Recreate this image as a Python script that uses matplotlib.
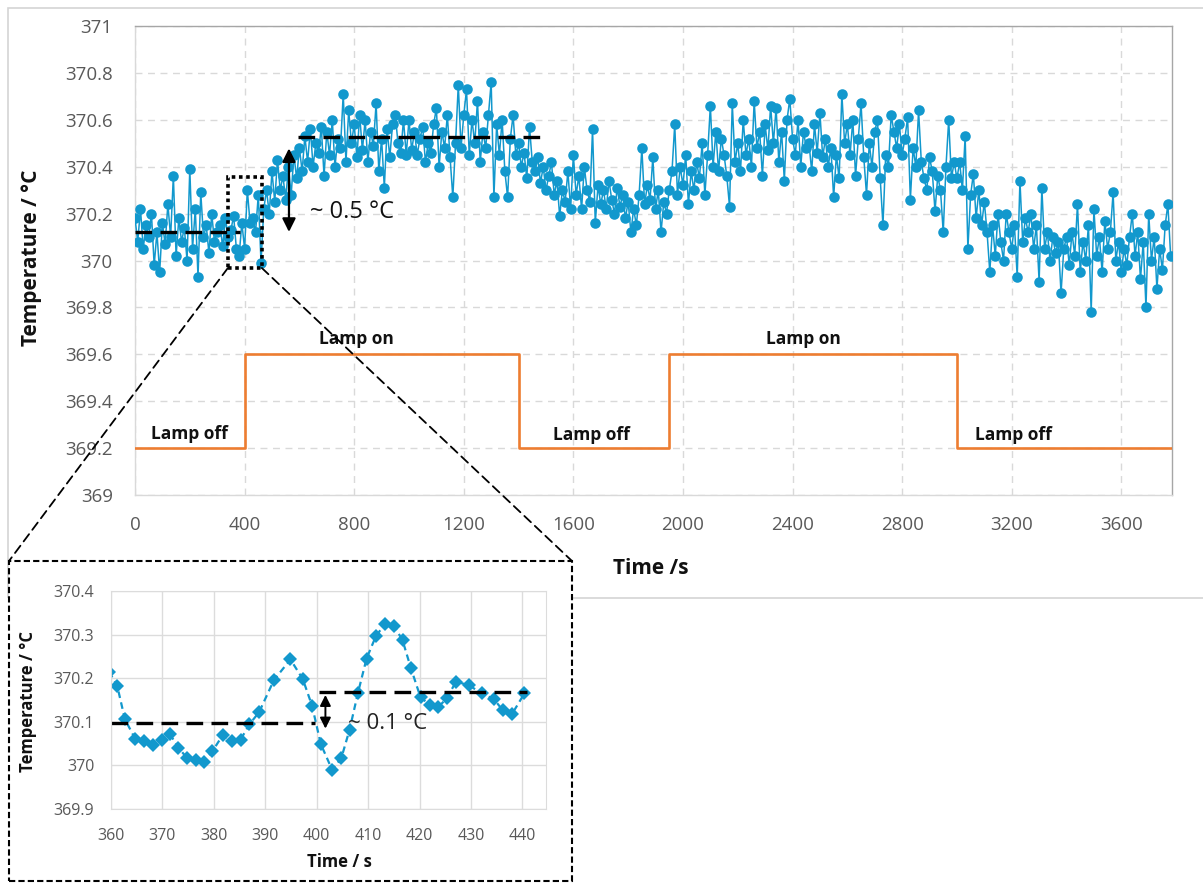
import numpy as np
import matplotlib
matplotlib.use("Agg")
import matplotlib.pyplot as plt
from matplotlib.patches import Rectangle, ConnectionPatch

plt.rcParams["font.family"] = ["Open Sans", "DejaVu Sans"]

# main run, every 10 s (one list per 200 s block)
step_s = 10
blk_0000 = [370.18, 370.08, 370.22, 370.05, 370.15, 370.10, 370.20, 369.98, 370.12, 369.95,
            370.16, 370.07, 370.24, 370.10, 370.36, 370.02, 370.18, 370.08, 370.14, 370.00]
blk_0200 = [370.39, 370.05, 370.22, 369.93, 370.29, 370.10, 370.15, 370.03, 370.20, 370.08,
            370.12, 370.15, 370.06, 370.18, 370.10, 370.13, 370.19, 370.05, 370.02, 370.16]
blk_0400 = [370.05, 370.30, 370.16, 370.18, 370.12, 370.28, 369.99, 370.22, 370.30, 370.20,
            370.38, 370.25, 370.43, 370.30, 370.36, 370.26, 370.40, 370.28, 370.45, 370.35]
blk_0600 = [370.48, 370.38, 370.53, 370.42, 370.56, 370.40, 370.50, 370.46, 370.57, 370.36,
            370.55, 370.45, 370.60, 370.40, 370.52, 370.48, 370.71, 370.42, 370.64, 370.50]
blk_0800 = [370.58, 370.44, 370.62, 370.47, 370.60, 370.42, 370.55, 370.49, 370.67, 370.38,
            370.52, 370.31, 370.56, 370.44, 370.58, 370.62, 370.50, 370.46, 370.60, 370.45]
blk_1000 = [370.60, 370.47, 370.55, 370.45, 370.52, 370.57, 370.42, 370.50, 370.46, 370.58,
            370.65, 370.40, 370.55, 370.48, 370.62, 370.44, 370.27, 370.50, 370.75, 370.48]
blk_1200 = [370.62, 370.73, 370.45, 370.60, 370.50, 370.68, 370.42, 370.55, 370.48, 370.62,
            370.76, 370.27, 370.58, 370.45, 370.60, 370.38, 370.27, 370.52, 370.62, 370.45]
blk_1400 = [370.50, 370.40, 370.46, 370.35, 370.57, 370.42, 370.38, 370.44, 370.33, 370.40,
            370.30, 370.36, 370.42, 370.28, 370.34, 370.19, 370.30, 370.25, 370.38, 370.22]
blk_1600 = [370.45, 370.28, 370.36, 370.22, 370.40, 370.30, 370.25, 370.56, 370.16, 370.32,
            370.24, 370.30, 370.22, 370.34, 370.26, 370.20, 370.31, 370.23, 370.28, 370.18]
blk_1800 = [370.25, 370.12, 370.22, 370.15, 370.28, 370.48, 370.24, 370.32, 370.26, 370.44,
            370.22, 370.30, 370.12, 370.25, 370.20, 370.30, 370.38, 370.58, 370.28, 370.40]
blk_2000 = [370.32, 370.45, 370.24, 370.38, 370.30, 370.42, 370.35, 370.50, 370.28, 370.45,
            370.66, 370.40, 370.55, 370.38, 370.52, 370.45, 370.36, 370.23, 370.67, 370.42]
blk_2200 = [370.50, 370.38, 370.60, 370.45, 370.52, 370.40, 370.68, 370.48, 370.55, 370.36,
            370.58, 370.47, 370.66, 370.50, 370.65, 370.42, 370.55, 370.34, 370.60, 370.69]
blk_2400 = [370.52, 370.45, 370.60, 370.40, 370.55, 370.48, 370.50, 370.38, 370.58, 370.46,
            370.63, 370.44, 370.52, 370.40, 370.48, 370.27, 370.45, 370.35, 370.71, 370.50]
blk_2600 = [370.58, 370.45, 370.60, 370.36, 370.52, 370.67, 370.44, 370.28, 370.50, 370.40,
            370.55, 370.60, 370.35, 370.15, 370.45, 370.40, 370.62, 370.55, 370.48, 370.58]
blk_2800 = [370.45, 370.52, 370.61, 370.26, 370.48, 370.40, 370.64, 370.42, 370.35, 370.30,
            370.44, 370.38, 370.21, 370.36, 370.30, 370.12, 370.40, 370.60, 370.35, 370.42]
blk_3000 = [370.35, 370.42, 370.30, 370.53, 370.05, 370.28, 370.37, 370.18, 370.30, 370.15,
            370.25, 370.12, 369.95, 370.15, 370.02, 370.20, 370.08, 370.00, 370.20, 370.12]
blk_3200 = [370.05, 370.15, 369.93, 370.34, 370.08, 370.18, 370.12, 370.20, 370.05, 370.15,
            369.91, 370.31, 370.05, 370.12, 370.00, 370.10, 370.03, 370.08, 369.86, 370.05]
blk_3400 = [370.10, 369.98, 370.12, 370.02, 370.24, 369.95, 370.08, 370.00, 370.15, 369.78,
            370.22, 370.02, 370.10, 369.95, 370.17, 370.05, 370.12, 370.29, 370.00, 370.08]
blk_3600 = [369.95, 370.05, 369.98, 370.10, 370.20, 370.02, 370.12, 369.92, 370.08, 369.80,
            370.20, 370.00, 370.10, 369.88, 370.05, 369.96, 370.15, 370.24, 370.02]

# lamp state (drawn as a step trace)
lamp_t = [0, 400, 1400, 1950, 3000, 3785]
lamp_v = [369.2, 369.6, 369.2, 369.6, 369.2, 369.2]
lamp_labels = ["Lamp off", "Lamp on", "Lamp off", "Lamp on", "Lamp off"]
lamp_label_t = [197, 810, 1667, 2440, 3206]
lamp_label_v = [369.26, 369.665, 369.255, 369.665, 369.255]

# average levels before / after switching on
off_level, on_level = 370.123, 370.525

# zoomed window 360-441 s
zoom_t = [359.6, 361.2, 362.7, 364.7, 366.5, 368.1, 369.9, 371.5, 373.1, 374.7, 376.5,
          378.1, 379.7, 381.7, 383.5, 385.2, 386.9, 388.8, 391.7, 394.9, 397.3, 399.1,
          400.8, 403.0, 404.8, 406.4, 408.0, 409.7, 411.5, 413.3, 415.1, 416.7, 418.3,
          420.2, 422.0, 423.6, 425.3, 427.1, 429.6, 432.1, 434.5, 436.2, 438.0, 440.4]
zoom_v = [370.215, 370.183, 370.106, 370.061, 370.055, 370.047, 370.058, 370.071, 370.041,
          370.018, 370.013, 370.008, 370.032, 370.069, 370.056, 370.059, 370.094, 370.122,
          370.196, 370.243, 370.198, 370.137, 370.049, 369.990, 370.017, 370.082, 370.165,
          370.245, 370.296, 370.325, 370.319, 370.287, 370.224, 370.156, 370.139, 370.133,
          370.154, 370.192, 370.184, 370.165, 370.152, 370.126, 370.118, 370.165]
zoom_low, zoom_high = 370.097, 370.168

main_xticks = [0, 400, 800, 1200, 1600, 2000, 2400, 2800, 3200, 3600]
main_yticks = [369, 369.2, 369.4, 369.6, 369.8, 370, 370.2, 370.4, 370.6, 370.8, 371]
main_ylabels = ["369", "369.2", "369.4", "369.6", "369.8", "370",
                "370.2", "370.4", "370.6", "370.8", "371"]
zoom_xticks = [360, 370, 380, 390, 400, 410, 420, 430, 440]
zoom_yticks = [369.9, 370, 370.1, 370.2, 370.3, 370.4]
zoom_ylabels = ["369.9", "370", "370.1", "370.2", "370.3", "370.4"]

temp = np.array(blk_0000 + blk_0200 + blk_0400 + blk_0600 + blk_0800 + blk_1000 + blk_1200
                + blk_1400 + blk_1600 + blk_1800 + blk_2000 + blk_2200 + blk_2400 + blk_2600
                + blk_2800 + blk_3000 + blk_3200 + blk_3400 + blk_3600)
t = np.arange(len(temp)) * step_s

W, H = 1203, 886
BLUE = "#1298cd"
ORANGE = "#ed7d31"
GRAY = "#595959"

fig = plt.figure(figsize=(W / 100, H / 100), dpi=100)

def px(x, y):
    return x / W, 1 - y / H

# light outer border of the main chart
fig.add_artist(Rectangle(px(8, 598), (W + 20) / W, 590 / H, transform=fig.transFigure,
                         fill=False, ec="#d4d4d4", lw=1.2, zorder=1))

ax = fig.add_axes([135 / W, 1 - 495 / H, (1172 - 135) / W, (495 - 26) / H], zorder=2)
ax.set_facecolor("none")
ax.plot(t, temp, "-o", color=BLUE, lw=1.1, ms=7.6, mew=0, zorder=3)
ax.plot(lamp_t, lamp_v, drawstyle="steps-post", color=ORANGE, lw=1.9, zorder=3)
for lab, lt, lv in zip(lamp_labels, lamp_label_t, lamp_label_v):
    ax.text(lt, lv, lab, ha="center", va="center", fontsize=12.5, fontweight="bold",
            color="#111111", zorder=4)

ax.plot([0, 383], [off_level, off_level], "--", color="black", lw=2.4, dashes=(5, 2.5), zorder=4)
ax.plot([595, 1495], [on_level, on_level], "--", color="black", lw=2.4, dashes=(5, 2.5), zorder=4)
ax.annotate("", xy=(562, 370.49), xytext=(562, 370.11),
            arrowprops=dict(arrowstyle="<|-|>", color="black", lw=1.6, mutation_scale=20),
            zorder=4)
ax.text(638, 370.207, "~ 0.5 \u00b0C", ha="left", va="center", fontsize=17, color="#111111",
        zorder=4)
ax.add_patch(Rectangle((339, 369.968), 124, 0.388, fill=False, ec="black", lw=2.6,
                       ls=(0, (1, 1)), zorder=5))

ax.set_xlim(0, 3785)
ax.set_ylim(369, 371)
ax.set_xticks(main_xticks)
ax.set_yticks(main_yticks)
ax.set_yticklabels(main_ylabels)
ax.tick_params(length=0, labelsize=13.5, labelcolor=GRAY)
ax.tick_params(axis="x", pad=15)
ax.tick_params(axis="y", pad=16)
ax.grid(True, color="#d9d9d9", lw=1, ls=(0, (5, 4)))
ax.set_axisbelow(True)
for s in ax.spines.values():
    s.set_color("#a6a6a6")
    s.set_linewidth(1)
ax.spines["left"].set_color("#d9d9d9")
ax.spines["bottom"].set_color("#d9d9d9")

fig.text(*px(32, 258), "Temperature / \u00b0C", rotation=90, ha="center", va="center",
         fontsize=15, fontweight="bold", color="#111111")
fig.text(*px(651, 569), "Time /s", ha="center", va="center", fontsize=15,
         fontweight="bold", color="#111111")

# connector lines from the marked window to the inset
for xa, xb in [(339, 9), (463, 572)]:
    con = ConnectionPatch(xyA=(xa, 369.968), coordsA=ax.transData,
                          xyB=(xb / W, 1 - 561 / H), coordsB=fig.transFigure,
                          color="black", lw=1.3, ls=(0, (5, 3)), zorder=6)
    fig.add_artist(con)

# dashed frame around the inset
fig.add_artist(Rectangle(px(9, 881), 563 / W, 320 / H, transform=fig.transFigure,
                         fc="white", ec="black", lw=1.5, ls=(0, (3, 1.5)), zorder=3))

ins = fig.add_axes([111 / W, 1 - 809 / H, 435 / W, 218 / H], zorder=7)
ins.plot(zoom_t, zoom_v, color=BLUE, lw=1.6, ls=(0, (3, 2)), marker="D", ms=7.5, mew=0)
ins.plot([360, 399.6], [zoom_low, zoom_low], color="black", lw=2.4, dashes=(5, 2.5))
ins.plot([400.5, 441], [zoom_high, zoom_high], color="black", lw=2.4, dashes=(5, 2.5))
ins.annotate("", xy=(401.7, zoom_high), xytext=(401.7, 370.078),
             arrowprops=dict(arrowstyle="<|-|>", color="black", lw=1.4, mutation_scale=16))
ins.text(406.0, zoom_low, "~ 0.1 \u00b0C", ha="left", va="center", fontsize=16,
         color="#222222")
ins.set_xlim(360, 444.6)
ins.set_ylim(369.9, 370.4)
ins.set_xticks(zoom_xticks)
ins.set_yticks(zoom_yticks)
ins.set_yticklabels(zoom_ylabels)
ins.tick_params(length=0, labelsize=11.5, labelcolor=GRAY)
ins.tick_params(axis="x", pad=14)
ins.tick_params(axis="y", pad=12)
ins.grid(True, color="#dcdcdc", lw=1)
ins.set_axisbelow(True)
for s in ins.spines.values():
    s.set_color("#dcdcdc")

fig.text(*px(28, 702), "Temperature / \u00b0C", rotation=90, ha="center", va="center",
         fontsize=12, fontweight="bold", color="#111111")
fig.text(*px(339, 862), "Time / s", ha="center", va="center", fontsize=12,
         fontweight="bold", color="#111111")

fig.savefig("out.png", dpi=100)
